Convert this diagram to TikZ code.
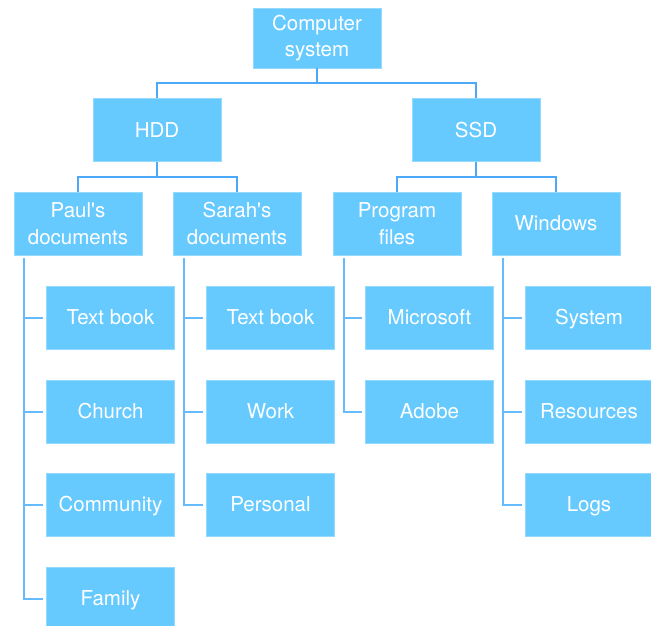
\documentclass[tikz,border=0pt]{standalone}
\usepackage{fontspec}
\setmainfont{TeX Gyre Heros}
\usetikzlibrary{calc}
\definecolor{boxblue}{HTML}{66CAFF}
\definecolor{topline}{HTML}{4DA8F8}
\definecolor{treeline}{HTML}{66BBFF}
\tikzset{
  box/.style={fill=boxblue, draw=boxblue!70!white, line width=0.6pt, minimum width=128pt, minimum height=63pt, inner sep=0pt, text=white, font=\fontsize{20.5}{26.5}\selectfont, align=center},
  oneline/.style={box, text height=16pt, text depth=1.2pt},
  topconn/.style={draw=topline, line width=2pt},
  treeconn/.style={draw=treeline, line width=2pt}
}
\begin{document}
\begin{tikzpicture}[x=1pt,y=-1pt]
\useasboundingbox (0,0) rectangle (651,626);
\node[box, minimum height=60pt] (cs) at (317,38) {Computer\\system};
\node[oneline] (hdd) at (157,130) {HDD};
\node[oneline] (ssd) at (476,130) {SSD};
\node[box] (paul) at (78,223.5) {Paul\textquotesingle s\\documents};
\node[box] (sarah) at (237,223.5) {Sarah\textquotesingle s\\documents};
\node[box] (prog) at (397,223.5) {Program\\files};
\node[oneline] (win) at (556,223.5) {Windows};
% Paul's children
\node[oneline] (p1) at (110.5,317.5) {Text book};
\node[oneline] (p2) at (110.5,411.5) {Church};
\node[oneline] (p3) at (110.5,504.5) {Community};
\node[oneline] (p4) at (110.5,598.5) {Family};
% Sarah's children
\node[oneline] (s1) at (270.5,317.5) {Text book};
\node[oneline] (s2) at (270.5,411.5) {Work};
\node[oneline] (s3) at (270.5,504.5) {Personal};
% Program files children
\node[oneline] (g1) at (429.5,317.5) {Microsoft};
\node[oneline] (g2) at (429.5,411.5) {Adobe};
% Windows children
\node[oneline] (w1) at (589,317.5) {System};
\node[oneline] (w2) at (589,411.5) {Resources};
\node[oneline] (w3) at (589,504.5) {Logs};
% top-level connectors
\draw[topconn] (cs.south) -- ++(0,15) coordinate (csj) -| (hdd.north);
\draw[topconn] (csj) -| (ssd.north);
\draw[topconn] (hdd.south) -- ++(0,15) coordinate (hj) -| (paul.north);
\draw[topconn] (hj) -| (sarah.north);
\draw[topconn] (ssd.south) -- ++(0,15) coordinate (sj) -| (prog.north);
\draw[topconn] (sj) -| (win.north);
% tree connectors
\coordinate (pv) at ($(paul.south west)+(10,3)$);
\draw[treeconn, shorten >=3pt] (pv) |- (p1.west);
\draw[treeconn, shorten >=3pt] (pv) |- (p2.west);
\draw[treeconn, shorten >=3pt] (pv) |- (p3.west);
\draw[treeconn, shorten >=3pt] (pv) |- (p4.west);
\coordinate (sv) at ($(sarah.south west)+(11,3)$);
\draw[treeconn, shorten >=3pt] (sv) |- (s1.west);
\draw[treeconn, shorten >=3pt] (sv) |- (s2.west);
\draw[treeconn, shorten >=3pt] (sv) |- (s3.west);
\coordinate (gv) at ($(prog.south west)+(11,3)$);
\draw[treeconn, shorten >=3pt] (gv) |- (g1.west);
\draw[treeconn, shorten >=3pt] (gv) |- (g2.west);
\coordinate (wv) at ($(win.south west)+(11,3)$);
\draw[treeconn, shorten >=3pt] (wv) |- (w1.west);
\draw[treeconn, shorten >=3pt] (wv) |- (w2.west);
\draw[treeconn, shorten >=3pt] (wv) |- (w3.west);
\end{tikzpicture}
\end{document}
